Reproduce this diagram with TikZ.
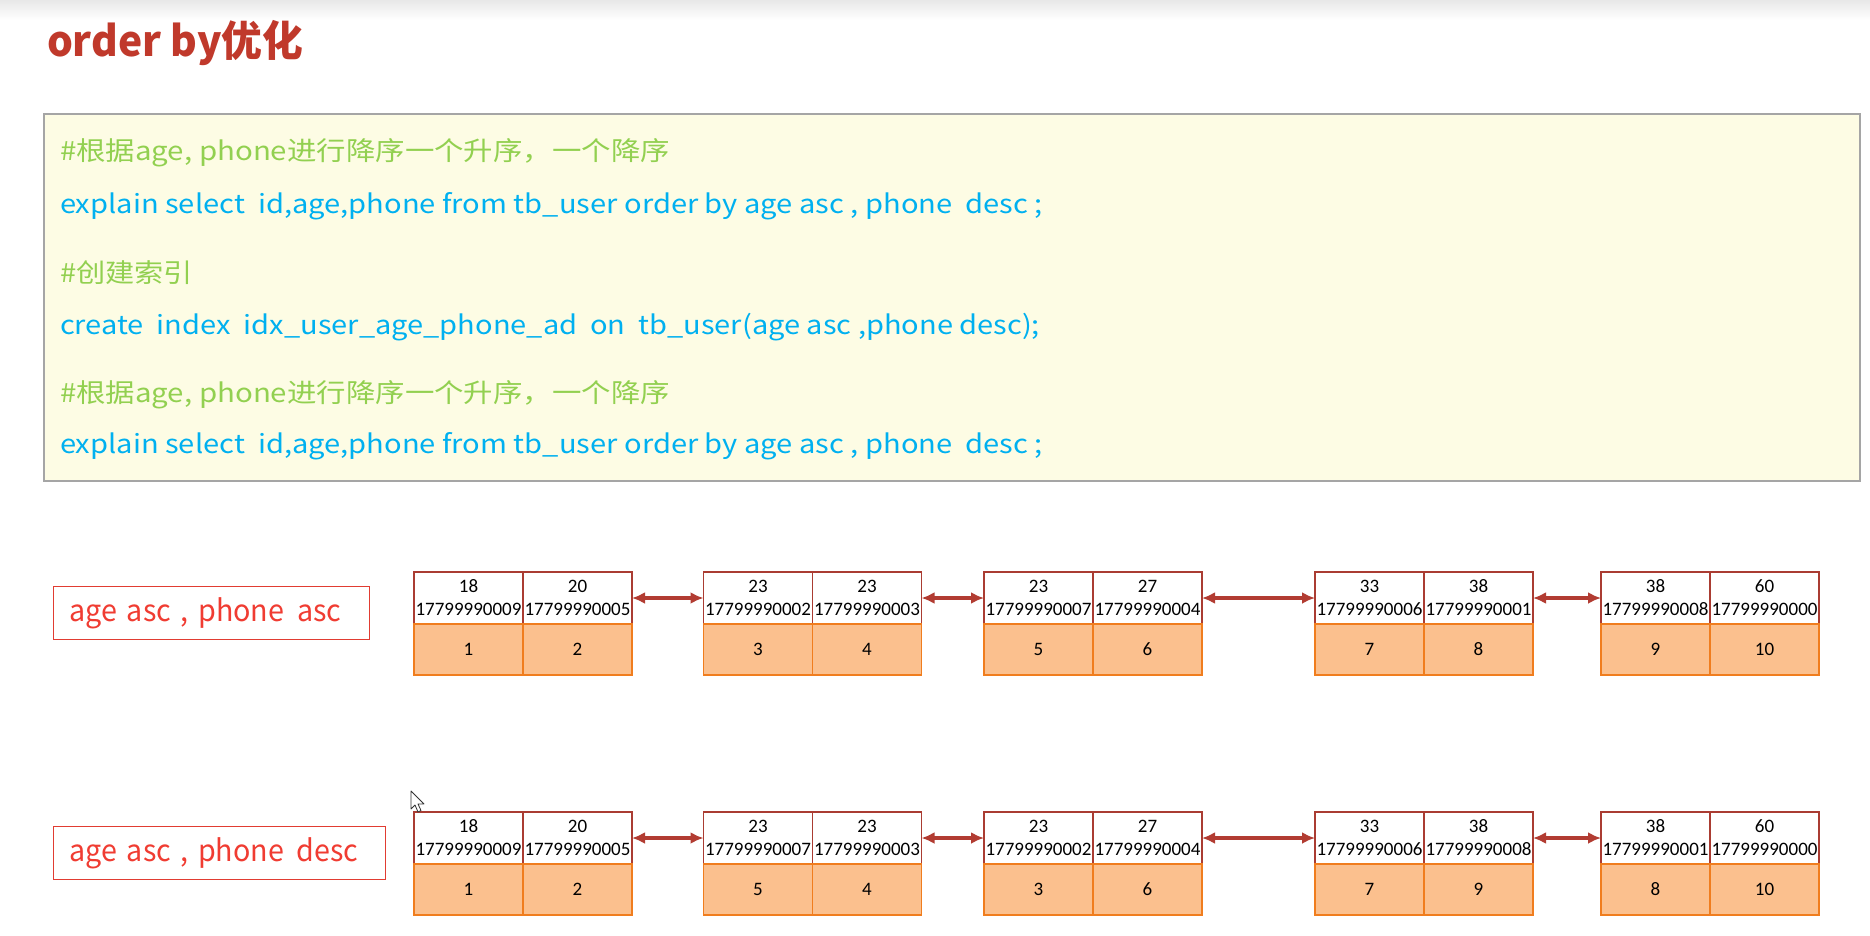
\documentclass[tikz,border=0pt]{standalone}
\usepackage{fontspec}
\usepackage{graphicx}
\usetikzlibrary{arrows.meta}
\setmainfont{Carlito}
\newfontfamily\cjk{Noto Sans CJK SC}
\definecolor{titlered}{RGB}{192,57,43}
\definecolor{codegreen}{RGB}{146,208,80}
\definecolor{codeblue}{RGB}{0,176,240}
\definecolor{codefill}{RGB}{253,252,228}
\definecolor{codeline}{RGB}{165,165,165}
\definecolor{labred}{RGB}{240,60,50}
\definecolor{labline}{RGB}{225,60,50}
\definecolor{cellred}{RGB}{170,60,50}
\definecolor{cellorange}{RGB}{240,125,30}
\definecolor{cellfill}{RGB}{251,192,142}
\definecolor{arrowred}{RGB}{178,60,50}
\newcommand\fitw[2]{\sbox0{#2}\pgfmathsetmacro\fitsx{#1/\the\wd0}\scalebox{\fitsx}[1]{\usebox0}}
\tikzset{
  codeg/.style={text=codegreen, font=\cjk\fontsize{26}{30}\selectfont, inner sep=0pt, outer sep=0pt, anchor=base west},
  codeb/.style={text=codeblue, font=\cjk\fontsize{26}{30}\selectfont, inner sep=0pt, outer sep=0pt, anchor=base west},
  ttl/.style={text=titlered, font=\cjk\bfseries\fontsize{42}{48}\selectfont, inner sep=0pt, outer sep=0pt, anchor=base west},
  lab/.style={draw=labline, line width=1.2pt, fill=white, text=labred, font=\cjk\fontsize{30}{34}\selectfont, anchor=north west, inner xsep=16pt, inner ysep=0pt, minimum height=53pt, align=left},
  wcell/.style={draw=cellred, fill=white, line width=1.6pt, minimum width=109pt, minimum height=52pt, inner sep=0pt, outer sep=0pt, align=center, font=\fontsize{19}{23}\selectfont, anchor=north west},
  ocell/.style={draw=cellorange, fill=cellfill, line width=1.6pt, minimum width=109pt, minimum height=51pt, inner sep=0pt, outer sep=0pt, font=\fontsize{19}{22}\selectfont, anchor=north west},
  conn/.style={{Latex[length=13pt,width=12pt]}-{Latex[length=13pt,width=12pt]}, line width=3.2pt, draw=arrowred},
}
\newcommand\blk[9]{%
  \node[wcell] (#1a) at (#2,#3) {#4\\#5};
  \node[wcell] (#1b) at (#1a.north east) {#6\\#7};
  \node[ocell] (#1c) at (#1a.south west) {#8};
  \node[ocell] (#1d) at (#1b.south west) {#9};
}
\begin{document}
\begin{tikzpicture}[x=1pt,y=-1pt]
\useasboundingbox (0,0) rectangle (1870,936);
\fill[white] (0,0) rectangle (1870,936);
\shade[top color=black!9, bottom color=white] (0,0) rectangle (1870,20);

% title
\node[ttl] (title) at (47,57) {\fitw{256}{order by优化}};

% code box
\node[draw=codeline, line width=1.2pt, fill=codefill, anchor=north west, minimum width=1816pt, minimum height=367pt, inner sep=0pt, outer sep=0pt] (code) at (44,114) {};
\node[codeg] (c1) at (60,161) {\fitw{610}{\#根据age, phone进行降序一个升序，一个降序}};
\node[codeb] (c2) at (60,213) {\fitw{983}{explain select~ id,age,phone from tb\_user order by age asc , phone~ desc ;}};
\node[codeg] (c3) at (60,282) {\fitw{133}{\#创建索引}};
\node[codeb] (c4) at (60,334) {\fitw{980}{create~ index~ idx\_user\_age\_phone\_ad~ on~ tb\_user(age asc ,phone desc);}};
\node[codeg] (c5) at (60,402) {\fitw{610}{\#根据age, phone进行降序一个升序，一个降序}};
\node[codeb] (c6) at (60,453) {\fitw{983}{explain select~ id,age,phone from tb\_user order by age asc , phone~ desc ;}};

% labels
\node[lab, text width=284pt] (lab1) at (53,586) {\fitw{272}{age asc , phone\hspace{0.12em} asc}};
\node[lab, text width=300pt] (lab2) at (53,826) {\fitw{289}{age asc , phone\hspace{0.12em} desc}};

% row 1
\blk{rA}{414}{572}{18}{17799990009}{20}{17799990005}{1}{2}
\blk{rB}{703.5}{572}{23}{17799990002}{23}{17799990003}{3}{4}
\blk{rC}{984}{572}{23}{17799990007}{27}{17799990004}{5}{6}
\blk{rD}{1315}{572}{33}{17799990006}{38}{17799990001}{7}{8}
\blk{rE}{1601}{572}{38}{17799990008}{60}{17799990000}{9}{10}
\draw[conn] (rAb.east) -- (rBa.west);
\draw[conn] (rBb.east) -- (rCa.west);
\draw[conn] (rCb.east) -- (rDa.west);
\draw[conn] (rDb.east) -- (rEa.west);

% row 2
\blk{sA}{414}{812}{18}{17799990009}{20}{17799990005}{1}{2}
\blk{sB}{703.5}{812}{23}{17799990007}{23}{17799990003}{5}{4}
\blk{sC}{984}{812}{23}{17799990002}{27}{17799990004}{3}{6}
\blk{sD}{1315}{812}{33}{17799990006}{38}{17799990008}{7}{9}
\blk{sE}{1601}{812}{38}{17799990001}{60}{17799990000}{8}{10}
\draw[conn] (sAb.east) -- (sBa.west);
\draw[conn] (sBb.east) -- (sCa.west);
\draw[conn] (sCb.east) -- (sDa.west);
\draw[conn] (sDb.east) -- (sEa.west);

% mouse pointer
\filldraw[fill=white, draw=black!80, line width=0.8pt, line join=round] (411,791) -- ++(0,18) -- ++(4,-4) -- ++(3,7) -- ++(3,-1.5) -- ++(-3,-6.5) -- ++(6,0) -- cycle;
\end{tikzpicture}
\end{document}
